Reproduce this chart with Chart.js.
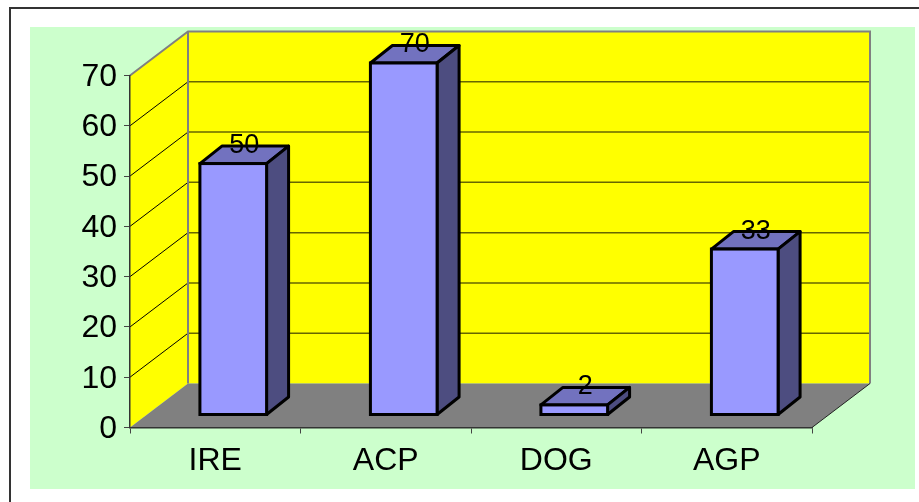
<!DOCTYPE html>
<html>
<head>
<meta charset="utf-8">
<title>Bar chart</title>
<script src="https://cdn.jsdelivr.net/npm/chart.js@4"></script>
<style>
  html, body { margin: 0; background: #fff; overflow: hidden; }
  #frame { position: absolute; left: 9px; top: 7px; width: 930px; height: 520px;
           border-top: 2px solid #333; border-left: 2px solid #333; }
  #panel { position: absolute; left: 30px; top: 27px; width: 885px; height: 462px; background: #ccffcc; }
  #myChart { position: absolute; left: 0; top: 0; }
</style>
</head>
<body>
<div id="frame"></div>
<div id="panel"></div>
<canvas id="myChart" width="919" height="502"></canvas>
<script>
const categories = ['IRE', 'ACP', 'DOG', 'AGP'];
const values = [50, 70, 2, 33];
const valueMin = 0;
const valueMax = 70;
const valueStep = 10;

// depth of the box behind the axes, and of each bar
const wallDx = 58, wallDy = -44;
const barDx = 22, barDy = -17.5;
// where the bars stand on the floor, relative to the front axes
const standDx = 18, standDy = -12.5;

function poly(ctx, pts, fill) {
    ctx.beginPath();
    ctx.moveTo(pts[0][0], pts[0][1]);
    for (let i = 1; i < pts.length; i++) ctx.lineTo(pts[i][0], pts[i][1]);
    ctx.closePath();
    if (fill) {
        ctx.fillStyle = fill;
        ctx.fill();
    }
}

const box3d = {
    id: 'box3d',
    beforeDraw(chart) {
        const ctx = chart.ctx;
        const { left, right } = chart.chartArea;
        const y = chart.scales.y;
        const y0 = y.getPixelForValue(valueMin);
        const yTop = y.getPixelForValue(valueMax);

        ctx.save();
        // back wall and side wall
        poly(ctx, [[left + wallDx, yTop + wallDy], [right + wallDx, yTop + wallDy],
                   [right + wallDx, y0 + wallDy], [left + wallDx, y0 + wallDy]], '#ffff00');
        poly(ctx, [[left, yTop], [left + wallDx, yTop + wallDy],
                   [left + wallDx, y0 + wallDy], [left, y0]], '#ffff00');

        // gridlines run along the side wall and across the back
        y.ticks.forEach(t => {
            if (t.value === valueMin || t.value === valueMax) return;
            const py = y.getPixelForValue(t.value);
            ctx.strokeStyle = '#000';
            ctx.lineWidth = 1;
            ctx.beginPath();
            ctx.moveTo(left, py);
            ctx.lineTo(left + wallDx, py + wallDy);
            ctx.stroke();
            ctx.strokeStyle = '#666600';
            ctx.lineWidth = 1.5;
            ctx.beginPath();
            ctx.moveTo(left + wallDx, py + wallDy);
            ctx.lineTo(right + wallDx, py + wallDy);
            ctx.stroke();
        });

        // grey outline of the walls
        ctx.strokeStyle = '#808080';
        ctx.lineWidth = 2;
        ctx.beginPath();
        ctx.moveTo(left, yTop);
        ctx.lineTo(left + wallDx, yTop + wallDy);
        ctx.lineTo(right + wallDx, yTop + wallDy);
        ctx.lineTo(right + wallDx, y0 + wallDy);
        ctx.moveTo(left + wallDx, yTop + wallDy);
        ctx.lineTo(left + wallDx, y0 + wallDy);
        ctx.stroke();

        // floor
        poly(ctx, [[left, y0], [right, y0], [right + wallDx, y0 + wallDy], [left + wallDx, y0 + wallDy]], '#808080');
        ctx.strokeStyle = '#222';
        ctx.lineWidth = 1;
        ctx.beginPath();
        ctx.moveTo(right, y0);
        ctx.lineTo(right + wallDx, y0 + wallDy);
        ctx.stroke();
        ctx.restore();
    },
    beforeDatasetDraw(chart, args) {
        const ctx = chart.ctx;
        ctx.save();
        ctx.translate(standDx, standDy);
        // top and side faces go under the library's front face
        ctx.strokeStyle = '#000';
        ctx.lineWidth = 3;
        ctx.lineJoin = 'round';
        args.meta.data.forEach(bar => {
            const l = bar.x - bar.width / 2, r = bar.x + bar.width / 2;
            poly(ctx, [[l, bar.y], [l + barDx, bar.y + barDy], [r + barDx, bar.y + barDy], [r, bar.y]], '#7272bf');
            ctx.stroke();
            poly(ctx, [[r, bar.y], [r + barDx, bar.y + barDy], [r + barDx, bar.base + barDy], [r, bar.base]], '#4d4d80');
            ctx.stroke();
        });
    },
    afterDatasetDraw(chart, args) {
        const ctx = chart.ctx;
        ctx.strokeStyle = '#000';
        ctx.lineWidth = 3;
        ctx.lineJoin = 'miter';
        args.meta.data.forEach(bar => {
            ctx.strokeRect(bar.x - bar.width / 2, bar.y, bar.width, bar.base - bar.y);
        });
        // value labels sit over the top face
        ctx.fillStyle = '#000';
        ctx.font = '27px "Liberation Sans"';
        ctx.textAlign = 'center';
        ctx.textBaseline = 'middle';
        args.meta.data.forEach((bar, i) => {
            ctx.fillText(String(values[i]), bar.x + barDx / 2, bar.y - 18);
        });
        ctx.restore();
    }
};

const config = {
    responsive: false,
    animation: false,
    devicePixelRatio: 1,
    layout: {
        padding: { left: 30, top: 75.5, right: 107, bottom: 12.5 }
    },
    plugins: {
        legend: { display: false },
        tooltip: { enabled: false }
    },
    scales: {
        x: {
            offset: true,
            afterFit(scale) { scale.height = 62; },
            grid: { drawOnChartArea: false, tickLength: 6, tickColor: '#444', offset: true },
            border: { color: '#333', width: 1.5 },
            ticks: {
                color: '#000',
                padding: 8,
                maxRotation: 0,
                font: { family: '"Liberation Sans"', size: 32 }
            }
        },
        y: {
            min: valueMin,
            max: valueMax,
            afterFit(scale) { scale.width = 100; },
            grid: { drawOnChartArea: false, tickLength: 6, tickColor: '#444' },
            border: { color: '#333', width: 1.5 },
            ticks: {
                stepSize: valueStep,
                color: '#000',
                padding: 7,
                labelOffset: 1.5,
                font: { family: '"Liberation Sans"', size: 32 }
            }
        }
    }
};

(function() {
    var ctx = document.querySelector('#myChart');
    new Chart(ctx, {
        type: 'bar',
        data: {
            labels: categories,
            datasets: [{
                data: values,
                backgroundColor: '#9999ff',
                borderWidth: 0,
                barPercentage: 0.391,
                categoryPercentage: 1,
                clip: false
            }]
        },
        options: config,
        plugins: [box3d]
    });
})();
</script>
</body>
</html>
